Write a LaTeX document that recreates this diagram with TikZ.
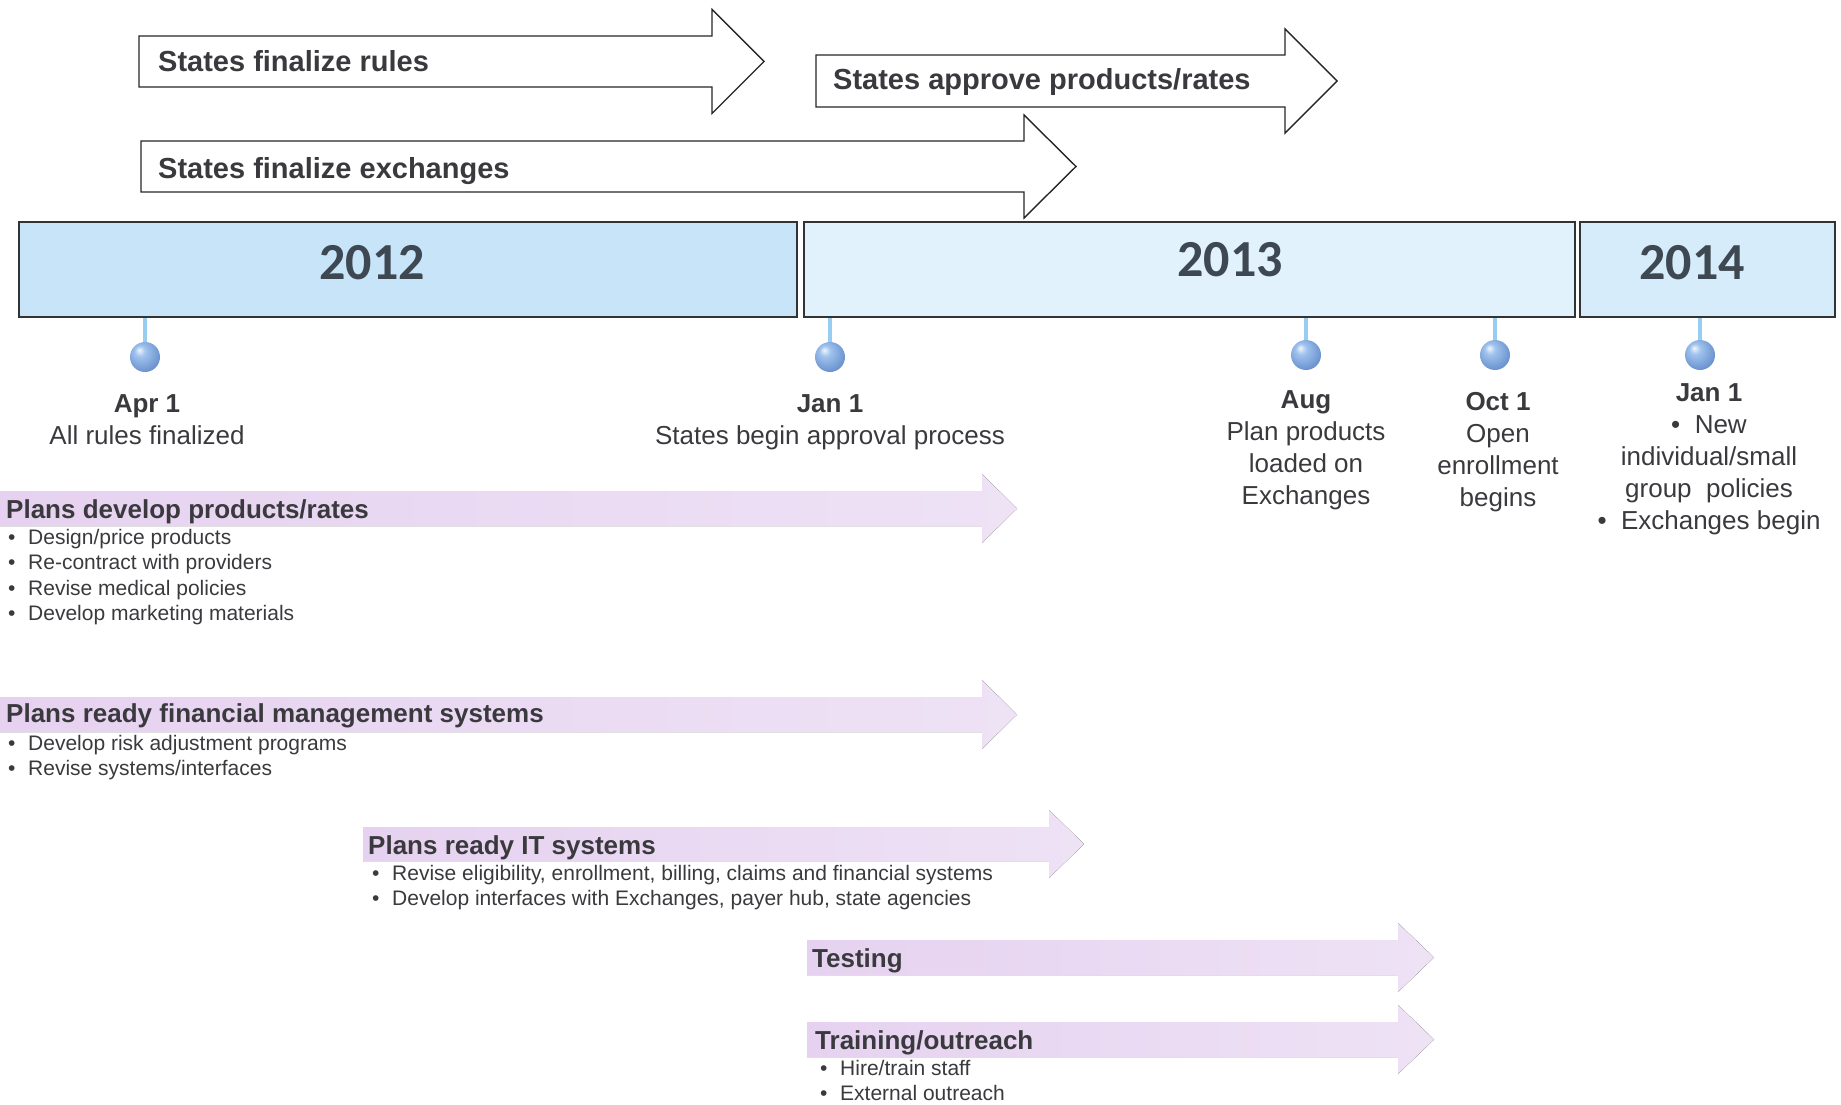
\documentclass[tikz,border=0pt]{standalone}
\usepackage{fontspec}
\setmainfont{Liberation Sans}
\newfontfamily\yearfont{Carlito}

\definecolor{txtgray}{RGB}{58,58,62}
\definecolor{yeargray}{RGB}{62,72,82}
\definecolor{fill2012}{RGB}{200,228,248}
\definecolor{fill2013}{RGB}{226,242,252}
\definecolor{fill2014}{RGB}{214,236,250}
\definecolor{stemblue}{RGB}{150,205,240}
\definecolor{ballblue}{RGB}{160,195,238}
\definecolor{balldark}{RGB}{105,145,205}
\definecolor{lavdark}{RGB}{230,210,240}
\definecolor{lavlight}{RGB}{238,226,245}

\pgfdeclareradialshading{pinball}{\pgfpoint{-10bp}{12bp}}{
    color(0bp)=(white!85!ballblue); color(9bp)=(ballblue);
    color(30bp)=(balldark); color(50bp)=(balldark)}

\newcommand{\bitem}[1]{\makebox[20pt][l]{\textbullet}#1}

\tikzset{
    statearrow/.style={draw=black!85, fill=white, line width=1.4pt},
    statetext/.style={anchor=base west, inner sep=0pt, text=txtgray,
        font=\fontsize{29}{34}\selectfont\bfseries},
    yearbox/.style={draw=black!80, line width=1.6pt, minimum height=95pt, inner sep=0pt},
    yeartext/.style={text=yeargray, inner sep=0pt,
        font=\yearfont\fontsize{52}{60}\selectfont\bfseries},
    milestone/.style={circle, inner sep=0pt, minimum size=30pt, shading=pinball},
    stem/.style={draw=stemblue, line width=4pt},
    % base = baseline of the last line
    datelabel/.style={anchor=base, align=center, inner sep=0pt, text=txtgray,
        font=\fontsize{26}{32}\selectfont},
    planarrow/.style={left color=lavdark, right color=lavlight},
    plantext/.style={anchor=base west, inner sep=0pt, text=txtgray,
        font=\fontsize{26}{30}\selectfont\bfseries},
    bullets/.style={anchor=base west, align=left, inner sep=0pt, text=txtgray,
        font=\fontsize{21}{25.5}\selectfont}
}

\begin{document}
\begin{tikzpicture}[x=1pt, y=-1pt]
    \useasboundingbox (0,0) rectangle (1841,1105);

    % Flechas de los estados
    \draw[statearrow] (139,36) -- (712,36) -- (712,9.5) -- (764,61.5)
        -- (712,113.5) -- (712,87) -- (139,87) -- cycle;
    \node[statetext] (rules) at (158,72) {States finalize rules};

    \draw[statearrow] (816,55) -- (1285,55) -- (1285,29) -- (1337,81)
        -- (1285,133) -- (1285,107) -- (816,107) -- cycle;
    \node[statetext] (approve) at (833,90) {States approve products/rates};

    \draw[statearrow] (141,141) -- (1024,141) -- (1024,115) -- (1076,166.5)
        -- (1024,218) -- (1024,192) -- (141,192) -- cycle;
    \node[statetext] (exchanges) at (158,178) {States finalize exchanges};

    % Barra de años
    \node[yearbox, fill=fill2012, minimum width=778pt] (box2012) at (408,269.5) {};
    \node[yearbox, fill=fill2013, minimum width=771pt] (box2013) at (1189.5,269.5) {};
    \node[yearbox, fill=fill2014, minimum width=255pt] (box2014) at (1707.5,269.5) {};
    \node[yeartext] (yr2012) at (372,263) {2012};
    \node[yeartext] (yr2013) at (1230,260) {2013};
    \node[yeartext] (yr2014) at (1692,263) {2014};

    % Hitos
    \node[milestone] (aprball) at (145,357) {};
    \node[milestone] (janball) at (830,357) {};
    \node[milestone] (augball) at (1306,355) {};
    \node[milestone] (octball) at (1495,355) {};
    \node[milestone] (jan14ball) at (1700,355) {};
    \draw[stem] (aprball.north) -- (aprball.north |- box2012.south);
    \draw[stem] (janball.north) -- (janball.north |- box2013.south);
    \draw[stem] (augball.north) -- (augball.north |- box2013.south);
    \draw[stem] (octball.north) -- (octball.north |- box2013.south);
    \draw[stem] (jan14ball.north) -- (jan14ball.north |- box2014.south);

    \node[datelabel] (aprlbl) at (147,444) {\textbf{Apr 1}\\All rules finalized};
    \node[datelabel] (janlbl) at (830,444) {\textbf{Jan 1}\\States begin approval process};
    \node[datelabel] (auglbl) at (1306,504)
        {\textbf{Aug}\\Plan products\\loaded on\\Exchanges};
    \node[datelabel] (octlbl) at (1498,506)
        {\textbf{Oct 1}\\Open\\enrollment\\begins};
    \node[datelabel] (jan14lbl) at (1709,529)
        {\textbf{Jan 1}\\\textbullet\ \ New\\individual/small\\group\ \ policies\\\textbullet\ \ Exchanges begin};

    % Tareas de los planes
    \fill[planarrow] (0,491) -- (982,491) -- (982,474) -- (1017,508.5)
        -- (982,543) -- (982,526) -- (0,526) -- cycle;
    \node[plantext] (devhead) at (6,518) {Plans develop products/rates};
    \node[bullets] (devlist) at (8,620.5)
        {\bitem{Design/price products}\\ \bitem{Re-contract with providers}\\
         \bitem{Revise medical policies}\\ \bitem{Develop marketing materials}};

    \fill[planarrow] (0,697) -- (982,697) -- (982,680) -- (1017,714.5)
        -- (982,749) -- (982,732) -- (0,732) -- cycle;
    \node[plantext] (finhead) at (6,722) {Plans ready financial management systems};
    \node[bullets] (finlist) at (8,775.5)
        {\bitem{Develop risk adjustment programs}\\ \bitem{Revise systems/interfaces}};

    \fill[planarrow] (363,827) -- (1049,827) -- (1049,810) -- (1084,844)
        -- (1049,878) -- (1049,861) -- (363,861) -- cycle;
    \node[plantext] (ithead) at (368,854) {Plans ready IT systems};
    \node[bullets] (itlist) at (372,905.5)
        {\bitem{Revise eligibility, enrollment, billing, claims and financial systems}\\
         \bitem{Develop interfaces with Exchanges, payer hub, state agencies}};

    \fill[planarrow] (807,940) -- (1398,940) -- (1398,923) -- (1434,957.5)
        -- (1398,992) -- (1398,975) -- (807,975) -- cycle;
    \node[plantext] (testhead) at (812,967) {Testing};

    \fill[planarrow] (807,1022) -- (1398,1022) -- (1398,1005) -- (1434,1039.5)
        -- (1398,1074) -- (1398,1057) -- (807,1057) -- cycle;
    \node[plantext] (trainhead) at (815,1049) {Training/outreach};
    \node[bullets] (trainlist) at (820,1100.5)
        {\bitem{Hire/train staff}\\ \bitem{External outreach}};

\end{tikzpicture}
\end{document}
